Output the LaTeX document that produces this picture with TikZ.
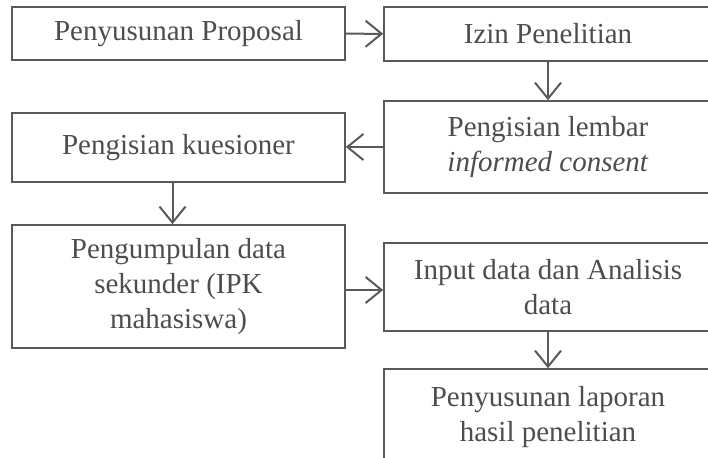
\documentclass[tikz,border=0pt]{standalone}
\usepackage{fontspec}
\setmainfont{Liberation Serif}
\usetikzlibrary{arrows.meta}
\definecolor{garis}{RGB}{89,89,89}
\definecolor{teks}{RGB}{77,77,77}
\tikzset{
  kotak/.style={draw=garis, line width=1.6pt, rectangle, align=center,
    text=teks, inner sep=0pt, font=\fontsize{29}{35}\selectfont},
  kiri/.style={kotak, minimum width=333pt},
  kanan/.style={kotak, minimum width=328pt},
  panah/.style={draw=garis, line width=2pt, -{Straight Barb[length=16pt,width=26pt,line width=2pt]}}
}
\begin{document}
\begin{tikzpicture}[x=1pt,y=-1pt]
      \useasboundingbox (0,0) rectangle (708,457);
      \clip (0,0) rectangle (708,457);
      \draw
        (178.5,33.5) node[kiri, minimum height=53pt] (prop){Penyusunan Proposal}
        (548,34) node[kanan, minimum height=54pt] (izin){Izin Penelitian}
        (548,147) node[kanan, minimum height=92pt] (consent){Pengisian lembar\\\textit{informed consent}}
        (178.5,147.5) node[kiri, minimum height=69pt] (kues){Pengisian kuesioner}
        (178.5,286.5) node[kiri, minimum height=123pt] (kumpul){Pengumpulan data\\sekunder (IPK\\mahasiswa)}
        (548,287) node[kanan, minimum height=88pt] (input){Input data dan Analisis\\data}
        (548,429) node[kanan, minimum height=120pt] (lapor){};
      \node[kotak, draw=none, anchor=north] (laporteks) at ([yshift=-17pt]lapor.north) {Penyusunan laporan\\hasil penelitian};
      \begin{scope}[panah]
        \draw (prop) to (izin);
        \draw (izin) to (consent);
        \draw (consent.west) to (consent.west -| kues.east);
        \draw ([xshift=-6pt]kues.south) to ([xshift=-6pt]kumpul.north);
        \draw ([yshift=-3.5pt]kumpul.east) to ([yshift=-3.5pt]kumpul.east -| input.west);
        \draw (input) to (lapor);
      \end{scope}
    \end{tikzpicture}
\end{document}
